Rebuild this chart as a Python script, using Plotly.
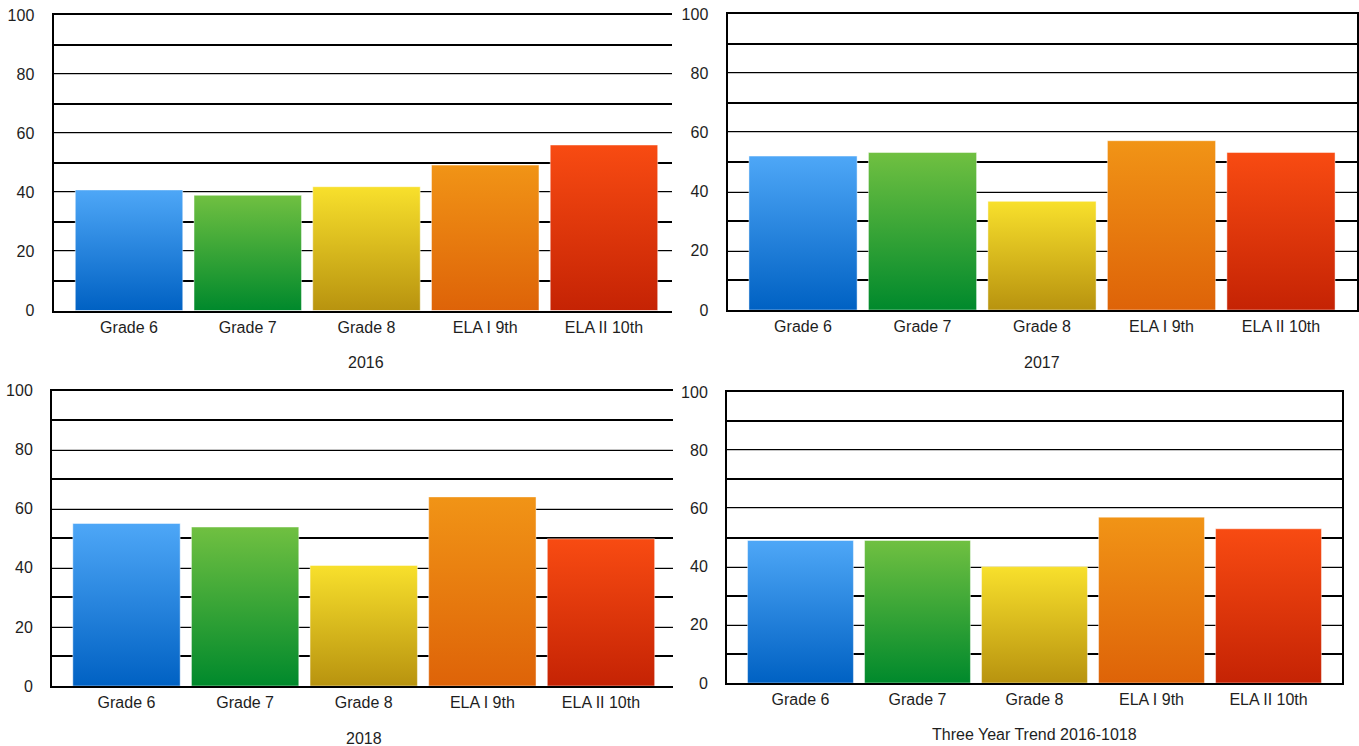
import plotly.graph_objects as go

# ---------------- data ----------------
categories = ["Grade 6", "Grade 7", "Grade 8", "ELA I 9th", "ELA II 10th"]
values_2016 = [40.8, 39.0, 41.9, 49.2, 56.0]
values_2017 = [52.0, 53.2, 36.7, 57.2, 53.2]
values_2018 = [55.0, 53.8, 40.8, 64.0, 49.8]
values_trend = [49.0, 49.0, 40.0, 57.0, 53.0]
panel_titles = ["2016", "2017", "2018", "Three Year Trend 2016-1018"]
y_ticks = [0, 20, 40, 60, 80, 100]

# ---------------- style ----------------
W, H = 1359, 746
bar_colors = [  # (bottom, top)
    ("#0061c3", "#4ea7f7"),
    ("#00892c", "#70c041"),
    ("#b8930f", "#f8e02c"),
    ("#de6308", "#f19416"),
    ("#c52304", "#f84b12"),
]
bar_width = 0.905
font_family = "Liberation Sans, Arial, Helvetica, sans-serif"
text_color = "#1e1e1e"

# panel geometry in pixels: (left, right, top, bottom), x-range
panels = [
    dict(vals=values_2016, box=(53.5, 672, 15, 310.5), xr=(-0.636, 4.573), right_border=False),
    dict(vals=values_2017, box=(727.5, 1356.5, 14, 310), xr=(-0.632, 4.632), right_border=True),
    dict(vals=values_2018, box=(52, 672.5, 390.5, 686), xr=(-0.628, 4.603), right_border=False),
    dict(vals=values_trend, box=(727, 1342, 392, 683), xr=(-0.628, 4.628), right_border=True),
]
title_y_px = [362, 362, 738, 734]

fig = go.Figure()
layout = dict(
    width=W, height=H,
    margin=dict(l=0, r=0, t=0, b=0, autoexpand=False),
    paper_bgcolor="white", plot_bgcolor="white",
    showlegend=False,
    font=dict(family=font_family, size=16, color=text_color),
    annotations=[],
)

for k, p in enumerate(panels):
    n = k + 1
    xa = "x" if n == 1 else f"x{n}"
    ya = "y" if n == 1 else f"y{n}"
    left, right, top, bottom = p["box"]
    for i, v in enumerate(p["vals"]):
        x0, x1 = i - bar_width / 2, i + bar_width / 2
        bot, topc = bar_colors[i]
        fig.add_trace(go.Scatter(
            x=[x0, x1, x1, x0, x0], y=[0, 0, v, v, 0],
            mode="lines", fill="toself",
            line=dict(color="rgba(255,255,255,0.45)", width=1),
            fillgradient=dict(type="vertical", colorscale=[[0, bot], [1, topc]]),
            xaxis=xa, yaxis=ya, hoverinfo="skip",
        ))
    xkey = "xaxis" if n == 1 else f"xaxis{n}"
    ykey = "yaxis" if n == 1 else f"yaxis{n}"
    layout[xkey] = dict(
        domain=[left / W, right / W], anchor=ya,
        range=list(p["xr"]), tickvals=list(range(len(categories))), ticktext=categories,
        showgrid=False, zeroline=False,
        showline=True, linecolor="black", linewidth=2, mirror=True,
        ticks="", ticklabelstandoff=1, automargin=False,
        tickfont=dict(size=16, color=text_color),
    )
    layout[ykey] = dict(
        domain=[1 - bottom / H, 1 - top / H], anchor=xa,
        range=[0, 100], tickvals=y_ticks,
        showgrid=True, gridcolor="#c4c4c4", gridwidth=1,
        minor=dict(dtick=10, showgrid=True, gridcolor="black", gridwidth=1.6),
        zeroline=False,
        showline=True, linecolor="black", linewidth=2,
        mirror=p["right_border"],
        ticks="", ticklabelstandoff=14, automargin=False,
        tickfont=dict(size=16, color=text_color),
    )
    layout["annotations"].append(dict(
        text=panel_titles[k], xref=xa, x=2, yref="paper", y=1 - title_y_px[k] / H,
        xanchor="center", yanchor="middle", showarrow=False,
        font=dict(size=16, color=text_color, family=font_family),
    ))

fig.update_layout(**layout)
fig.write_html("out.html")
